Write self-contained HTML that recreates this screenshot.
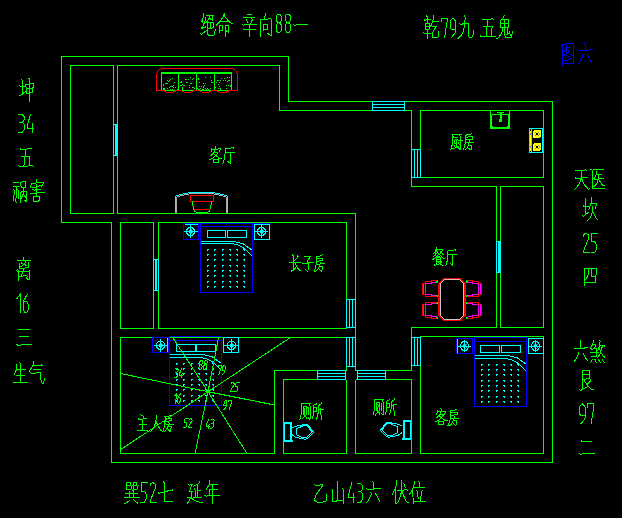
<!DOCTYPE html>
<html><head><meta charset="utf-8"><title>plan</title>
<style>html,body{margin:0;padding:0;background:#000;font-family:"Liberation Sans",sans-serif}svg{display:block}</style>
</head><body>
<svg width="622" height="518" viewBox="0 0 622 518" shape-rendering="crispEdges">
<rect x="0" y="0" width="622" height="518" fill="#000"/>
<g id="walls">
<path d="M61.5 56.5 L288.5 56.5 L288.5 101.5 L552.5 101.5 L552.5 462.5 L111.5 462.5 L111.5 222.5 L61.5 222.5 Z" stroke="#00ff00" stroke-width="1" fill="none"/>
<rect x="70.5" y="65.5" width="43" height="148" stroke="#00ff00" stroke-width="1" fill="none"/>
<path d="M357.5 370.5 L411.5 370.5 L411.5 327.5 L496.5 327.5 L496.5 186.5 L411.5 186.5 L411.5 110.5 L279.5 110.5 L279.5 65.5 L117.5 65.5 L117.5 213.5 L355.5 213.5 L355.5 370.5 L357.5 370.5" stroke="#00ff00" stroke-width="1" fill="none"/>
<rect x="120.5" y="222.5" width="33" height="106" stroke="#00ff00" stroke-width="1" fill="none"/>
<rect x="158.5" y="222.5" width="188" height="106" stroke="#00ff00" stroke-width="1" fill="none"/>
<path d="M345.5 370.5 L274.5 370.5 L274.5 453.5 L120.5 453.5 L120.5 337.5 L346.5 337.5 L346.5 370.5" stroke="#00ff00" stroke-width="1" fill="none"/>
<path d="M345.5 379.5 L283.5 379.5 L283.5 453.5 L346.5 453.5 L346.5 379.5" stroke="#00ff00" stroke-width="1" fill="none"/>
<path d="M355.5 379.5 L355.5 453.5 L411.5 453.5 L411.5 379.5 L355.5 379.5" stroke="#00ff00" stroke-width="1" fill="none"/>
<path d="M355.5 379.5 L357.5 379.5" stroke="#00ff00" stroke-width="1" fill="none"/>
<rect x="420.5" y="336.5" width="123" height="117" stroke="#00ff00" stroke-width="1" fill="none"/>
<rect x="500.5" y="186.5" width="43" height="141" stroke="#00ff00" stroke-width="1" fill="none"/>
<rect x="420.5" y="110.5" width="123" height="67" stroke="#00ff00" stroke-width="1" fill="none"/>
</g>
<g id="windows">
<rect x="372" y="101" width="33" height="10" fill="#000"/>
<rect x="372.5" y="101.5" width="32" height="9" stroke="#00ffff" stroke-width="1" fill="none"/>
<path d="M372.5 104.5 L404.5 104.5" stroke="#00ffff" stroke-width="1" fill="none"/>
<path d="M372.5 107.5 L404.5 107.5" stroke="#00ffff" stroke-width="1" fill="none"/>
<rect x="317" y="370" width="29" height="10" fill="#000"/>
<rect x="317.5" y="370.5" width="28" height="9" stroke="#00ffff" stroke-width="1" fill="none"/>
<path d="M317.5 373.5 L345.5 373.5" stroke="#00ffff" stroke-width="1" fill="none"/>
<path d="M317.5 376.5 L345.5 376.5" stroke="#00ffff" stroke-width="1" fill="none"/>
<rect x="357" y="370" width="29" height="10" fill="#000"/>
<rect x="357.5" y="370.5" width="28" height="9" stroke="#00ffff" stroke-width="1" fill="none"/>
<path d="M357.5 373.5 L385.5 373.5" stroke="#00ffff" stroke-width="1" fill="none"/>
<path d="M357.5 376.5 L385.5 376.5" stroke="#00ffff" stroke-width="1" fill="none"/>
<rect x="411" y="149" width="10" height="29" fill="#000"/>
<rect x="411.5" y="149.5" width="9" height="28" stroke="#00ffff" stroke-width="1" fill="none"/>
<path d="M414.5 149.5 L414.5 177.5" stroke="#00ffff" stroke-width="1" fill="none"/>
<path d="M417.5 149.5 L417.5 177.5" stroke="#00ffff" stroke-width="1" fill="none"/>
<rect x="346" y="299" width="10" height="29" fill="#000"/>
<rect x="346.5" y="299.5" width="9" height="28" stroke="#00ffff" stroke-width="1" fill="none"/>
<path d="M349.5 299.5 L349.5 327.5" stroke="#00ffff" stroke-width="1" fill="none"/>
<path d="M352.5 299.5 L352.5 327.5" stroke="#00ffff" stroke-width="1" fill="none"/>
<rect x="346" y="337" width="10" height="30" fill="#000"/>
<rect x="346.5" y="337.5" width="9" height="29" stroke="#00ffff" stroke-width="1" fill="none"/>
<path d="M349.5 337.5 L349.5 366.5" stroke="#00ffff" stroke-width="1" fill="none"/>
<path d="M352.5 337.5 L352.5 366.5" stroke="#00ffff" stroke-width="1" fill="none"/>
<rect x="411" y="337" width="10" height="29" fill="#000"/>
<rect x="411.5" y="337.5" width="9" height="28" stroke="#00ffff" stroke-width="1" fill="none"/>
<path d="M414.5 337.5 L414.5 365.5" stroke="#00ffff" stroke-width="1" fill="none"/>
<path d="M417.5 337.5 L417.5 365.5" stroke="#00ffff" stroke-width="1" fill="none"/>
<rect x="113" y="124" width="5" height="32" fill="#000"/>
<rect x="113.5" y="124.5" width="4" height="31" stroke="#00ffff" stroke-width="1" fill="none"/>
<rect x="115" y="124" width="3" height="32" fill="#00ffff"/>
<rect x="153" y="259" width="6" height="32" fill="#000"/>
<rect x="153.5" y="259.5" width="5" height="31" stroke="#00ffff" stroke-width="1" fill="none"/>
<rect x="155" y="259" width="2" height="32" fill="#00ffff"/>
<rect x="496" y="241" width="5" height="32" fill="#000"/>
<rect x="496.5" y="241.5" width="4" height="31" stroke="#00ffff" stroke-width="1" fill="none"/>
<rect x="498" y="241" width="3" height="32" fill="#00ffff"/>
</g>
<g id="sofa">
<rect x="161" y="72" width="71" height="2" fill="#00ff00"/>
<path d="M161.5 73 L161.5 90.5 L231.5 90.5 L231.5 73" stroke="#00ff00" stroke-width="1" fill="none"/>
<path d="M178.5 73 L178.5 90.5" stroke="#00ff00" stroke-width="1" fill="none"/>
<path d="M196.5 73 L196.5 90.5" stroke="#00ff00" stroke-width="1" fill="none"/>
<path d="M214.5 73 L214.5 90.5" stroke="#00ff00" stroke-width="1" fill="none"/>
<path d="M167 88.5h1M172 89.5h1M170 86.5h1M163 84.5h1M163 85.5h1M163 89.5h1M169 80.5h1M164 88.5h1M172 78.5h1M171 86.5h1M177 89.5h1M175 87.5h1M164 89.5h1M167 80.5h1M165 83.5h1M172 86.5h1M170 89.5h1M163 88.5h1M173 85.5h1M167 83.5h1M169 87.5h1M174 82.5h1M166 83.5h1M170 79.5h1M173 87.5h1M177 89.5h1M168 81.5h1M182 84.5h1M180 82.5h1M191 83.5h1M193 87.5h1M190 83.5h1M189 85.5h1M193 78.5h1M187 82.5h1M181 82.5h1M190 77.5h1M192 87.5h1M186 82.5h1M180 85.5h1M182 89.5h1M181 81.5h1M182 87.5h1M186 79.5h1M181 85.5h1M188 79.5h1M192 79.5h1M184 85.5h1M185 79.5h1M194 88.5h1M182 88.5h1M183 85.5h1M189 87.5h1M180 85.5h1M203 83.5h1M212 82.5h1M205 83.5h1M208 89.5h1M211 80.5h1M211 80.5h1M203 86.5h1M199 82.5h1M198 89.5h1M200 88.5h1M202 89.5h1M197 88.5h1M199 86.5h1M198 79.5h1M207 88.5h1M201 86.5h1M203 89.5h1M210 77.5h1M204 85.5h1M199 89.5h1M203 87.5h1M210 88.5h1M198 78.5h1M205 88.5h1M206 89.5h1M205 77.5h1M211 82.5h1M219 86.5h1M217 80.5h1M223 80.5h1M220 88.5h1M227 77.5h1M228 80.5h1M227 81.5h1M218 84.5h1M220 89.5h1M215 87.5h1M219 82.5h1M230 85.5h1M229 77.5h1M230 86.5h1M218 88.5h1M218 88.5h1M224 78.5h1M228 85.5h1M225 80.5h1M216 82.5h1M229 80.5h1M226 85.5h1M218 80.5h1M220 80.5h1M230 86.5h1M221 78.5h1M226 88.5h1" stroke="#00ff00" stroke-width="1" fill="none"/>
<path d="M156.5 90.5 L156.5 74 L157.5 71.5 L159.5 69.5 L162 68.5 L232 68.5 L234.5 69.5 L236.5 71.5 L237.5 74 L237.5 90.5" stroke="#ff0000" stroke-width="1" fill="none"/>
<path d="M156.5 90.5 L163 90.5 L163.5 90.5 Q166 92.5 170 92.5 Q174 92.5 176.5 90.5 L181.2 90.5 Q183.7 92.5 187.7 92.5 Q191.7 92.5 194.2 90.5 L199.0 90.5 Q201.5 92.5 205.5 92.5 Q209.5 92.5 212.0 90.5 L216.5 90.5 Q219 92.5 223 92.5 Q227 92.5 229.5 90.5 L237.5 90.5" stroke="#ff0000" stroke-width="1" fill="none"/>
</g>
<g id="tv">
<path d="M175.5 213V195.5M176 195.5H179M179 194.5H183M183 193.5H188M188 192.5H215M215 193.5H220M220 194.5H224M224 195.5H227M227.5 195.5V213" stroke="#00ffff" fill="none"/>
<path d="M176.5 213V196.5M177 196.5H180M180 195.5H184M184 194.5H189M189 193.5H214M214 194.5H219M219 195.5H223M223 196.5H226M226.5 196.5V213" stroke="#a8a8a8" fill="none"/>
<rect x="190.5" y="195.5" width="23" height="6" stroke="#ff0000" stroke-width="1" fill="none"/>
<path d="M192.5 201.5 L193.5 209.5 L195 211.5 L197.5 212.5 L206.5 212.5 L209 211.5 L210.5 209.5 L211.5 201.5" stroke="#00ff00" stroke-width="1" fill="none"/>
<path d="M194 209.5 L210 209.5" stroke="#ff0000" stroke-width="1" fill="none"/>
</g>
<g>
<rect x="207.5" y="230.5" width="18" height="7" stroke="#00ffff" stroke-width="1" fill="none"/>
<rect x="227" y="230.5" width="19" height="7" stroke="#00ffff" stroke-width="1" fill="none"/>
<path d="M200.5 241.5 L233.5 241.5 L238.5 242.5 L243.5 244 L252.5 250.5" stroke="#00ffff" stroke-width="1" fill="none"/>
<path d="M200.5 243.5 L231.5 243.5 L236.5 244.5 L241.5 246.5 L245.5 249.5 L252.5 256.5" stroke="#00ffff" stroke-width="1" fill="none"/>
<path d="M207 249.5h2M207.5 250v1M207 254.5h2M207.5 255v1M207 259.5h2M207.5 260v1M207 265.5h2M207.5 266v1M207 270.5h2M207.5 271v1M207 275.5h2M207.5 276v1M207 281.5h2M207.5 282v1M207 286.5h2M207.5 287v1M214 249.5h2M214.5 250v1M214 254.5h2M214.5 255v1M214 259.5h2M214.5 260v1M214 265.5h2M214.5 266v1M214 270.5h2M214.5 271v1M214 275.5h2M214.5 276v1M214 281.5h2M214.5 282v1M214 286.5h2M214.5 287v1M222 249.5h2M222.5 250v1M222 254.5h2M222.5 255v1M222 259.5h2M222.5 260v1M222 265.5h2M222.5 266v1M222 270.5h2M222.5 271v1M222 275.5h2M222.5 276v1M222 281.5h2M222.5 282v1M222 286.5h2M222.5 287v1M229 249.5h2M230.5 250v1M229 254.5h2M230.5 255v1M229 259.5h2M230.5 260v1M229 265.5h2M230.5 266v1M229 270.5h2M230.5 271v1M229 275.5h2M230.5 276v1M229 281.5h2M230.5 282v1M229 286.5h2M230.5 287v1M236 249.5h2M237.5 250v1M236 254.5h2M237.5 255v1M236 259.5h2M237.5 260v1M236 265.5h2M237.5 266v1M236 270.5h2M237.5 271v1M236 275.5h2M237.5 276v1M236 281.5h2M237.5 282v1M236 286.5h2M237.5 287v1M243 249.5h2M244.5 250v1M243 254.5h2M244.5 255v1M243 259.5h2M244.5 260v1M243 265.5h2M244.5 266v1M243 270.5h2M244.5 271v1M243 275.5h2M244.5 276v1M243 281.5h2M244.5 282v1M243 286.5h2M244.5 287v1" stroke="#00ffff" stroke-width="1" fill="none"/>
<rect x="200.5" y="223.5" width="52" height="69" stroke="#0000ff" stroke-width="1" fill="none"/>
<path d="M200.5 226.5 L252.5 226.5" stroke="#0000ff" stroke-width="1" fill="none"/>
</g>
<path d="M184.5 224.5 L198 224.5" stroke="#00ffff" stroke-width="1" fill="none"/>
<rect x="183.5" y="223.5" width="15" height="16" stroke="#0000ff" stroke-width="1" fill="none"/>
<path d="M188.8 227.8 L192.2 227.8 L194.5 229.9 L194.5 233.1 L192.2 235.2 L188.8 235.2 L186.5 233.1 L186.5 229.9 Z" stroke="#00ffff" stroke-width="1" fill="none"/>
<path d="M184 231.5 L197.8 231.5" stroke="#00ffff" stroke-width="1" fill="none"/>
<path d="M190.5 224.5 L190.5 237.8" stroke="#00ffff" stroke-width="1" fill="none"/>
<path d="M188 231.5 L190.5 229.5 L193 231.5 L190.5 233.5 Z" fill="#00ffff" stroke="#00ffff" stroke-width="0.6"/>
<path d="M254 223.5 L270 223.5" stroke="#0000ff" stroke-width="1" fill="none"/>
<rect x="254.5" y="224.5" width="15" height="15" stroke="#00ffff" stroke-width="1" fill="none"/>
<path d="M259.8 227.8 L263.2 227.8 L265.5 229.9 L265.5 233.1 L263.2 235.2 L259.8 235.2 L257.5 233.1 L257.5 229.9 Z" stroke="#00ffff" stroke-width="1" fill="none"/>
<path d="M254.5 231.5 L267.8 231.5" stroke="#00ffff" stroke-width="1" fill="none"/>
<path d="M261.5 224.5 L261.5 237.8" stroke="#00ffff" stroke-width="1" fill="none"/>
<path d="M259 231.5 L261.5 229.5 L264 231.5 L261.5 233.5 Z" fill="#00ffff" stroke="#00ffff" stroke-width="0.6"/>
<g>
<rect x="176.5" y="344.5" width="18.5" height="7" stroke="#00ffff" stroke-width="1" fill="none"/>
<rect x="196.5" y="344.5" width="18.5" height="7" stroke="#00ffff" stroke-width="1" fill="none"/>
<path d="M169.5 354.5 L202.5 354.5 L207.5 355.5 L212.5 357 L221.5 363.5" stroke="#00ffff" stroke-width="1" fill="none"/>
<path d="M169.5 357.5 L200.5 357.5 L205.5 358.5 L210.5 360.5 L214.5 363.5 L221.5 370.5" stroke="#00ffff" stroke-width="1" fill="none"/>
<path d="M176 363.5h2M176.5 364v1M176 368.5h2M176.5 369v1M176 373.5h2M176.5 374v1M176 379.5h2M176.5 380v1M176 384.5h2M176.5 385v1M176 389.5h2M176.5 390v1M176 395.5h2M176.5 396v1M176 400.5h2M176.5 401v1M183 363.5h2M183.5 364v1M183 368.5h2M183.5 369v1M183 373.5h2M183.5 374v1M183 379.5h2M183.5 380v1M183 384.5h2M183.5 385v1M183 389.5h2M183.5 390v1M183 395.5h2M183.5 396v1M183 400.5h2M183.5 401v1M191 363.5h2M191.5 364v1M191 368.5h2M191.5 369v1M191 373.5h2M191.5 374v1M191 379.5h2M191.5 380v1M191 384.5h2M191.5 385v1M191 389.5h2M191.5 390v1M191 395.5h2M191.5 396v1M191 400.5h2M191.5 401v1M198 363.5h2M199.5 364v1M198 368.5h2M199.5 369v1M198 373.5h2M199.5 374v1M198 379.5h2M199.5 380v1M198 384.5h2M199.5 385v1M198 389.5h2M199.5 390v1M198 395.5h2M199.5 396v1M198 400.5h2M199.5 401v1M205 363.5h2M206.5 364v1M205 368.5h2M206.5 369v1M205 373.5h2M206.5 374v1M205 379.5h2M206.5 380v1M205 384.5h2M206.5 385v1M205 389.5h2M206.5 390v1M205 395.5h2M206.5 396v1M205 400.5h2M206.5 401v1M212 363.5h2M213.5 364v1M212 368.5h2M213.5 369v1M212 373.5h2M213.5 374v1M212 379.5h2M213.5 380v1M212 384.5h2M213.5 385v1M212 389.5h2M213.5 390v1M212 395.5h2M213.5 396v1M212 400.5h2M213.5 401v1" stroke="#00ffff" stroke-width="1" fill="none"/>
<rect x="169.5" y="336.5" width="52" height="69" stroke="#0000ff" stroke-width="1" fill="none"/>
<path d="M169.5 340.5 L221.5 340.5" stroke="#0000ff" stroke-width="1" fill="none"/>
</g>
<path d="M167.5 338 L167.5 352.5" stroke="#00ffff" stroke-width="1" fill="none"/>
<rect x="152.5" y="337.5" width="16" height="15" stroke="#0000ff" stroke-width="1" fill="none"/>
<path d="M158.8 341.5 L162.2 341.5 L164.5 343.8 L164.5 347.2 L162.2 349.5 L158.8 349.5 L156.5 347.2 L156.5 343.8 Z" stroke="#00ffff" stroke-width="1" fill="none"/>
<path d="M154 345.5 L167.5 345.5" stroke="#00ffff" stroke-width="1" fill="none"/>
<path d="M160.5 339 L160.5 352" stroke="#00ffff" stroke-width="1" fill="none"/>
<path d="M158 345.5 L160.5 343.5 L163 345.5 L160.5 347.5 Z" fill="#00ffff" stroke="#00ffff" stroke-width="0.6"/>
<rect x="223.5" y="337.5" width="15" height="15" stroke="#00ffff" stroke-width="1" fill="none"/>
<path d="M229.8 341.5 L233.2 341.5 L235.5 343.8 L235.5 347.2 L233.2 349.5 L229.8 349.5 L227.5 347.2 L227.5 343.8 Z" stroke="#00ffff" stroke-width="1" fill="none"/>
<path d="M223.5 345.5 L238.5 345.5" stroke="#00ffff" stroke-width="1" fill="none"/>
<path d="M231.5 339 L231.5 352.5" stroke="#00ffff" stroke-width="1" fill="none"/>
<path d="M229 345.5 L231.5 343.5 L234 345.5 L231.5 347.5 Z" fill="#00ffff" stroke="#00ffff" stroke-width="0.6"/>
<g>
<rect x="480.5" y="345.5" width="19" height="7" stroke="#00ffff" stroke-width="1" fill="none"/>
<rect x="501" y="345.5" width="19" height="7" stroke="#00ffff" stroke-width="1" fill="none"/>
<path d="M474.5 355.5 L507.5 355.5 L512.5 356.5 L517.5 358 L526.5 364.5" stroke="#00ffff" stroke-width="1" fill="none"/>
<path d="M474.5 358.5 L505.5 358.5 L510.5 359.5 L515.5 361.5 L519.5 364.5 L526.5 371.5" stroke="#00ffff" stroke-width="1" fill="none"/>
<path d="M481 364.5h2M481.5 365v1M481 369.5h2M481.5 370v1M481 374.5h2M481.5 375v1M481 380.5h2M481.5 381v1M481 385.5h2M481.5 386v1M481 390.5h2M481.5 391v1M481 396.5h2M481.5 397v1M481 401.5h2M481.5 402v1M488 364.5h2M488.5 365v1M488 369.5h2M488.5 370v1M488 374.5h2M488.5 375v1M488 380.5h2M488.5 381v1M488 385.5h2M488.5 386v1M488 390.5h2M488.5 391v1M488 396.5h2M488.5 397v1M488 401.5h2M488.5 402v1M496 364.5h2M496.5 365v1M496 369.5h2M496.5 370v1M496 374.5h2M496.5 375v1M496 380.5h2M496.5 381v1M496 385.5h2M496.5 386v1M496 390.5h2M496.5 391v1M496 396.5h2M496.5 397v1M496 401.5h2M496.5 402v1M503 364.5h2M504.5 365v1M503 369.5h2M504.5 370v1M503 374.5h2M504.5 375v1M503 380.5h2M504.5 381v1M503 385.5h2M504.5 386v1M503 390.5h2M504.5 391v1M503 396.5h2M504.5 397v1M503 401.5h2M504.5 402v1M510 364.5h2M511.5 365v1M510 369.5h2M511.5 370v1M510 374.5h2M511.5 375v1M510 380.5h2M511.5 381v1M510 385.5h2M511.5 386v1M510 390.5h2M511.5 391v1M510 396.5h2M511.5 397v1M510 401.5h2M511.5 402v1M517 364.5h2M518.5 365v1M517 369.5h2M518.5 370v1M517 374.5h2M518.5 375v1M517 380.5h2M518.5 381v1M517 385.5h2M518.5 386v1M517 390.5h2M518.5 391v1M517 396.5h2M518.5 397v1M517 401.5h2M518.5 402v1" stroke="#00ffff" stroke-width="1" fill="none"/>
<rect x="474.5" y="337.5" width="52" height="69" stroke="#0000ff" stroke-width="1" fill="none"/>
<path d="M474.5 341.5 L526.5 341.5" stroke="#0000ff" stroke-width="1" fill="none"/>
</g>
<path d="M457.5 339 L457.5 353.5" stroke="#00ffff" stroke-width="1" fill="none"/>
<rect x="456.5" y="338.5" width="16" height="15" stroke="#0000ff" stroke-width="1" fill="none"/>
<path d="M462.9 341.4 L466.1 341.4 L468.2 344.1 L468.2 347.9 L466.1 350.6 L462.9 350.6 L460.8 347.9 L460.8 344.1 Z" stroke="#00ffff" stroke-width="1" fill="none"/>
<path d="M457.5 346 L470.8 346" stroke="#00ffff" stroke-width="1" fill="none"/>
<path d="M464.5 340 L464.5 352" stroke="#00ffff" stroke-width="1" fill="none"/>
<path d="M462 346 L464.5 344 L467 346 L464.5 348 Z" fill="#00ffff" stroke="#00ffff" stroke-width="0.6"/>
<rect x="528.5" y="338.5" width="15" height="15" stroke="#00ffff" stroke-width="1" fill="none"/>
<path d="M533.9 341.4 L537.1 341.4 L539.2 344.1 L539.2 347.9 L537.1 350.6 L533.9 350.6 L531.8 347.9 L531.8 344.1 Z" stroke="#00ffff" stroke-width="1" fill="none"/>
<path d="M528.5 346 L541.8 346" stroke="#00ffff" stroke-width="1" fill="none"/>
<path d="M535.5 340 L535.5 352" stroke="#00ffff" stroke-width="1" fill="none"/>
<path d="M533 346 L535.5 344 L538 346 L535.5 348 Z" fill="#00ffff" stroke="#00ffff" stroke-width="0.6"/>
<g id="dining">
<path d="M423.5 284 L423.5 294" stroke="#ff00ff" stroke-width="1" fill="none"/>
<path d="M436.5 282.5 L431.5 282.5 L431.5 283.5 L425.5 283.5 L425.5 294.5 L431.5 294.5 L431.5 295.5 L436.5 295.5" stroke="#ff00ff" stroke-width="1" fill="none"/>
<path d="M438 280.5 L431.5 280.5 L431.5 281.5 L425.5 281.5 L425.5 283.5 L422.5 283.5 L422.5 294.5 L425.5 294.5 L425.5 296.5 L438 296.5" stroke="#ff0000" stroke-width="1" fill="none"/>
<path d="M435.5 282.5 L438 279.5 L438 282.5 Z" fill="#00ff00" stroke="none"/>
<path d="M435.5 295 L438 295 L438 297.5 Z" fill="#00ff00" stroke="none"/>
<path d="M423.5 315 L423.5 305" stroke="#ff00ff" stroke-width="1" fill="none"/>
<path d="M436.5 316.5 L431.5 316.5 L431.5 315.5 L425.5 315.5 L425.5 304.5 L431.5 304.5 L431.5 303.5 L436.5 303.5" stroke="#ff00ff" stroke-width="1" fill="none"/>
<path d="M438 318.5 L431.5 318.5 L431.5 317.5 L425.5 317.5 L425.5 315.5 L422.5 315.5 L422.5 304.5 L425.5 304.5 L425.5 302.5 L438 302.5" stroke="#ff0000" stroke-width="1" fill="none"/>
<path d="M435.5 316.5 L438 319.5 L438 316.5 Z" fill="#00ff00" stroke="none"/>
<path d="M435.5 304 L438 304 L438 301.5 Z" fill="#00ff00" stroke="none"/>
<path d="M480.5 284 L480.5 294" stroke="#ff00ff" stroke-width="1" fill="none"/>
<path d="M467.5 282.5 L472.5 282.5 L472.5 283.5 L478.5 283.5 L478.5 294.5 L472.5 294.5 L472.5 295.5 L467.5 295.5" stroke="#ff00ff" stroke-width="1" fill="none"/>
<path d="M466 280.5 L472.5 280.5 L472.5 281.5 L478.5 281.5 L478.5 283.5 L481.5 283.5 L481.5 294.5 L478.5 294.5 L478.5 296.5 L466 296.5" stroke="#ff0000" stroke-width="1" fill="none"/>
<path d="M468.5 282.5 L466 279.5 L466 282.5 Z" fill="#00ff00" stroke="none"/>
<path d="M468.5 295 L466 295 L466 297.5 Z" fill="#00ff00" stroke="none"/>
<path d="M480.5 315 L480.5 305" stroke="#ff00ff" stroke-width="1" fill="none"/>
<path d="M467.5 316.5 L472.5 316.5 L472.5 315.5 L478.5 315.5 L478.5 304.5 L472.5 304.5 L472.5 303.5 L467.5 303.5" stroke="#ff00ff" stroke-width="1" fill="none"/>
<path d="M466 318.5 L472.5 318.5 L472.5 317.5 L478.5 317.5 L478.5 315.5 L481.5 315.5 L481.5 304.5 L478.5 304.5 L478.5 302.5 L466 302.5" stroke="#ff0000" stroke-width="1" fill="none"/>
<path d="M468.5 316.5 L466 319.5 L466 316.5 Z" fill="#00ff00" stroke="none"/>
<path d="M468.5 304 L466 304 L466 301.5 Z" fill="#00ff00" stroke="none"/>
<path d="M443.5 278.5 L460.5 278.5 L465.5 283.5 L465.5 315.5 L460.5 320.5 L443.5 320.5 L438.5 315.5 L438.5 283.5 Z" stroke="#ff0000" stroke-width="1" fill="none"/>
<path d="M444 279 L460 279 L464.5 283.5 L464.5 315.5 L460 320 L444 320 L439.5 315.5 L439.5 283.5 Z" stroke="#ff0000" stroke-width="1" fill="none"/>
<path d="M444.5 279.5 L459.5 279.5 L463.5 283.5 L463.5 315.5 L459.5 319.5 L444.5 319.5 L440.5 315.5 L440.5 283.5 Z" stroke="#c8c8c8" stroke-width="1" fill="none"/>
</g>
<g id="kitchen">
<rect x="490.5" y="110.5" width="19" height="18" stroke="#00ff00" stroke-width="1" fill="none"/>
<rect x="490" y="127" width="20" height="2" fill="#00ff00"/>
<rect x="491.5" y="114.5" width="17" height="12.5" rx="1.5" stroke="#00ff00" fill="none"/>
<path d="M497 112.5 L504 112.5" stroke="#00ff00" stroke-width="1" fill="none"/>
<rect x="499.5" y="112" width="2" height="9" fill="#00ff00"/>
<circle cx="500.5" cy="120.5" r="1" stroke="#00ff00" fill="none"/>
<rect x="529.5" y="128.5" width="13" height="24" stroke="#00ffff" stroke-width="1" fill="none"/>
<path d="M531.5 128.5 L531.5 152.5" stroke="#00ffff" stroke-width="1" fill="none"/>
<path d="M530.5 131 L530.5 151" stroke="#ffff00" stroke-width="1" fill="none"/>
<rect x="533" y="130" width="8" height="8" rx="2" fill="#ffff00"/>
<rect x="534" y="129.5" width="6" height="1" fill="#ffff00"/>
<rect x="536" y="133" width="2" height="2" fill="#000"/>
<rect x="535" y="132" width="1" height="1" fill="#777"/>
<rect x="538" y="132" width="1" height="1" fill="#777"/>
<rect x="535" y="135" width="1" height="1" fill="#777"/>
<rect x="538" y="135" width="1" height="1" fill="#777"/>
<rect x="539" y="133" width="1" height="2" fill="#999"/>
<rect x="530" y="133" width="2" height="2" fill="#9090a0"/>
<rect x="533" y="143" width="8" height="8" rx="2" fill="#ffff00"/>
<rect x="534" y="142.5" width="6" height="1" fill="#ffff00"/>
<rect x="536" y="146" width="2" height="2" fill="#000"/>
<rect x="535" y="145" width="1" height="1" fill="#777"/>
<rect x="538" y="145" width="1" height="1" fill="#777"/>
<rect x="535" y="148" width="1" height="1" fill="#777"/>
<rect x="538" y="148" width="1" height="1" fill="#777"/>
<rect x="539" y="146" width="1" height="2" fill="#999"/>
<rect x="530" y="146" width="2" height="2" fill="#9090a0"/>
</g>
<g id="toilets">
<rect x="284.2" y="422.1" width="7.8" height="19.6" fill="#00ffff"/>
<rect x="292" y="439.7" width="1" height="2" fill="#00ffff"/>
<rect x="285.2" y="424" width="4.4" height="15.8" fill="#000"/>
<path d="M291.9 427.9 L295.1 426.3 L299.3 425.6 L301.2 425.6 L304.8 424 L307 424.4 L313.8 431.8 L310.2 435.9 L307.7 438.2 L305.4 439.5 L303.8 438.8 L299.3 438.2 L295.1 436.9 L291.9 434.6" stroke="#00ffff" stroke-width="1" fill="none"/>
<path d="M298 427.9 L296.3 428.8 L296.3 434.4 L298 435.6 L301 436.9 L305.2 438 L307 437 L309.5 434.8 L312.3 431.8 L306.5 425.5 L305 425.3 L301.2 426.8 L298 427.9" stroke="#00ffff" stroke-width="1" fill="none"/>
<rect x="403" y="420.1" width="7.8" height="19.6" fill="#00ffff"/>
<rect x="402" y="437.7" width="1" height="2" fill="#00ffff"/>
<rect x="405.4" y="422" width="4.4" height="15.8" fill="#000"/>
<path d="M402.1 425.9 L398.9 424.3 L394.7 423.6 L392.8 423.6 L389.2 422 L387 422.4 L380.2 429.8 L383.8 433.9 L386.3 436.2 L388.6 437.5 L390.2 436.8 L394.7 436.2 L398.9 434.9 L402.1 432.6" stroke="#00ffff" stroke-width="1" fill="none"/>
<path d="M396 425.9 L397.7 426.8 L397.7 432.4 L396 433.6 L393 434.9 L388.8 436 L387 435 L384.5 432.8 L381.7 429.8 L387.5 423.5 L389 423.3 L392.8 424.8 L396 425.9" stroke="#00ffff" stroke-width="1" fill="none"/>
</g>
<g id="rays">
<path d="M208 391.7 L172.7 337.5" stroke="#00ff00" stroke-width="1" fill="none"/>
<path d="M208 391.7 L218.6 337.5" stroke="#00ff00" stroke-width="1" fill="none"/>
<path d="M208 391.7 L290.5 337.5" stroke="#00ff00" stroke-width="1" fill="none"/>
<path d="M208 391.7 L274.5 405" stroke="#00ff00" stroke-width="1" fill="none"/>
<path d="M208 391.7 L247 453.5" stroke="#00ff00" stroke-width="1" fill="none"/>
<path d="M208 391.7 L195 453.5" stroke="#00ff00" stroke-width="1" fill="none"/>
<path d="M208 391.7 L120.5 449.7" stroke="#00ff00" stroke-width="1" fill="none"/>
<path d="M208 391.7 L120.5 373.5" stroke="#00ff00" stroke-width="1" fill="none"/>
</g>
<g id="text">
<path d="M210.3 28.1 L207.4 28.4M210.3 28.1 L213.2 27.9 L213.5 23.1 L213.3 22.2 L210.4 22.4M210.3 28.1 L210.4 22.4M202.5 28.2 L205.8 26.9M202.5 28.2 L203.8 23.6M202.5 28.2 L201.8 28.5 L201.1 27.8M205.5 17.6 L205.7 19.3 L204.3 23.2 L203.8 23.6M210 18.6 L211.4 19.9 L212.2 20.1 L212.7 18.4 L213 15.6 L211.4 15.4 L209.5 15.8M203.5 13.8 L203.8 14.9 L203.7 15.9 L201.7 21.3 L203.8 23.6M210.4 22.4 L207.4 22.5M207.4 22.5 L207.4 28.4M207.4 22.5 L207.1 21.6M215.1 29.4 L214.9 33.9 L214.5 34.8 L213.1 35.3 L208.7 35.3 L207.5 34.3 L207.4 28.4M205.7 22.6 L207.1 21.6M206.4 15.2 L207.3 15.9 L209.5 15.8M206.3 30.7 L201.7 34.2 L200.5 33.8M207.1 21.6 L209 18.2 L209.5 15.8M225.4 37 L225.1 35.2 L225.1 25.3 L228.9 25.1 L228.9 29.2 L228.5 31.9 L228.2 32.3 L227 31.6 L226 30.4M227 21.7 L226.1 21.3 L221.8 21.7 L220.7 20.7M231.9 23.2 L231.2 23.4 L228.3 20.8 L223.9 15.3M219.5 31 L222.5 30.9 L222.7 26.4 L222.5 25.6 L219.2 25.9 L219.5 31M219.5 31 L219.8 32.5M223.9 13 L224.1 13.8 L223.9 15.3M220.7 20.7 L223.9 15.3M220.7 20.7 L216.3 25.1M255.4 29.6 L254.8 29.3 L249.4 29.6M250.4 24.6 L256 24.1 L256.8 24.5M250.4 24.6 L252.2 20 L252 18.7M250.4 24.6 L249.4 24.7M255 17.4 L245.6 18 L243.7 17.5M247.3 14.1 L251.3 14.6M249.4 29.6 L249.4 24.7M249.4 29.7 L244.3 29.9 L243.6 29.3M249.4 29.7 L249.4 35.7 L249.7 36.6M247.7 22.9 L246.8 20.4 L246.2 19.7M249.4 24.7 L242.9 25.1 L242.2 24.6M263.8 19.3 L270.3 18.8 L271.4 19.2 L271.4 35.3 L271.1 35.7 L270.4 35.5 L267.8 33.3M263.8 19.3 L265.5 14.4 L265.3 13.1M263.8 19.3 L260.3 19.7 L260.3 35.6 L260.5 36.2M263.6 24.8 L263.9 30 L267.5 29.8 L267.7 24.1 L263.6 24.4 L263.6 24.8M278.8 14 L276.8 15.2 L276.1 17 L276.1 19.5 L277.3 22 L278.8 22.7 L280.5 22 L281.6 19.5 L281.6 17 L280.8 15.2 L278.8 14M278.8 22.7 L277 23.7 L276.1 25.5 L276.1 29.5 L277.3 32 L278.8 33 L280.3 32 L281.6 29.5 L281.6 25.5 L280.6 23.7 L278.8 22.7M287.9 14 L285.9 15.2 L285.2 17 L285.2 19.5 L286.4 22 L287.9 22.7 L289.6 22 L290.7 19.5 L290.7 17 L289.9 15.2 L287.9 14M287.9 22.7 L286.1 23.7 L285.2 25.5 L285.2 29.5 L286.4 32 L287.9 33 L289.4 32 L290.7 29.5 L290.7 25.5 L289.7 23.7 L287.9 22.7M293.2 24.5 L294.2 25.2 L306.9 24.1 L307.6 24.5" stroke="#00ff00" stroke-width="1" fill="none" stroke-linecap="square"/>
<path d="M438.8 31.7 L438.6 35.3 L438 37 L436.2 37.5 L432.5 37 L432.1 35.8 L432.5 33.3 L436.1 26.3 L432.3 26.4 L431.7 26M432.6 21.6 L437.1 21.2 L438.2 21.6M432.6 21.6 L430.3 26.2M432.6 21.6 L433.6 17.2 L433.2 16M427.3 19.9 L424.5 20.1 L424 19.7M427.3 19.9 L427.3 23.1M427.3 19.8 L430.5 19.8M427.3 19.8 L427.3 17.2 L426.7 15.8M429.3 26 L429.3 23.1 L427.3 23.1M429.3 26 L429.2 28.9 L427.3 29.3M429.3 26 L425.1 26.4M427.3 33 L424 33.2 L423.4 32.7M427.3 33 L430.9 33M427.3 33 L427.2 37.9 L427.5 38.8M427.3 33 L427.3 29.3M427.3 29.3 L425.3 29.3 L425.1 26.4M427.3 23.1 L425 23.4 L425.1 26.4M441.1 21.3 L441.1 18.2 L447 18.2 L447 22.3 L445.2 33 L444.7 37.6M455.7 29.7 L451.1 29.4 L450.5 28.4 L450.5 20.4 L452.7 18.2 L454.7 19.8 L455.7 22.3 L455.7 31.5 L454.3 34 L451.4 37.6M464.7 23.8 L463.9 29 L462.5 33.1 L460.4 36.3 L458.2 38.5M464.7 23.8 L460.5 24.2 L459.6 23.5M473.4 30.8 L473.1 34.8 L472.5 36.8 L471.4 37.3 L468.9 37 L468.4 35.1 L469 23.4 L468.8 23.1 L464.9 23.4M464.9 23.4 L465.1 17.2 L464.5 15.9M495.7 36.5 L494.9 36.1 L491.7 36.1M482.5 19.2 L483.1 19.7 L487.9 19.4M487.2 26.5 L492.1 26.5 L491.7 36.1M487.2 26.5 L487.9 19.4M486 36.5 L491.7 36.1M486 36.5 L487 26.9M486 36.5 L481.7 36.6 L480.7 36.1M487.9 19.4 L492.3 18.8 L493.7 19.1M483.1 26.3 L483.8 26.9 L487 26.9M504.4 23.6 L504.4 19.9M504.4 23.6 L508.6 23.4M506.9 34.4 L509.8 33.4M506.9 34.4 L505.9 34.1M506.9 34.4 L508 29.6 L507.8 28.7M504.4 19.9 L508.7 19.4 L508.6 23.4M504.4 19.9 L502.4 19.8M496.9 38.7 L499 37 L500.9 34.4 L502.3 30.9 L502.8 27.9M502.4 19.8 L500 20.2 L500.1 24.1M502.4 19.8 L502.6 18.9 L504.2 15.9M512.2 31.7 L511.8 36 L511.3 37.2 L509.7 37.6 L505.3 37.3 L504.9 35.5 L505 27.6M504.3 23.7 L500.1 24.1M504.3 23.7 L504.3 27.5M500.1 24.1 L500.3 27.9 L502.8 27.9M510.2 35.1 L510.3 34.4 L509.8 33.4M508.6 23.4 L508.5 27.2 L505 27.6M509.3 31.7 L509.8 33.4M504.3 27.5 L502.8 27.9M504.3 27.5 L505 27.6" stroke="#00ff00" stroke-width="1" fill="none" stroke-linecap="square"/>
<path d="M565.9 49.3 L565.9 48.6 L566.6 47.8M565.9 49.3 L563.8 51.9M565.9 49.3 L567.7 51.8M567.7 51.8 L565.6 54.3 L563 56.2M562.1 63.5 L573.5 63 L573.4 43.5 L562 44.2 L562.1 63.5M562.1 63.5 L562.2 65.2M571.2 58.3 L565.6 61 L564.6 60.5M569.4 57.3 L566.7 55.9 L565.9 56M572.3 55.1 L571 54.7 L568 51.8M566.6 47.8 L569.6 47.8 L569.4 49 L568 51.8M566.6 47.8 L566.9 46.4 L566.8 45.5M578.2 64 L580.2 61 L582.5 56.5 L582.8 55.5 L582.5 54.2M592.4 50.1 L591.3 49.8 L585.2 50.3M585.2 50.3 L578.9 50.8 L578 50M585.2 50.3 L585.2 44.4 L584.4 42.9M587.3 55.1 L591.6 62.5" stroke="#0000ff" stroke-width="1" fill="none" stroke-linecap="square"/>
<path d="M22.2 94.1 L25.2 91.8M22.2 94.1 L22 94.6 L20.2 95.7 L19.3 95.1M22.2 94.1 L22.2 86.5M33 88 L32.8 92.7 L29.4 93M33 88 L33.1 83.6 L29.4 83.9M33 88 L29.4 88.2M19.7 86 L20.4 86.6 L22.2 86.5M28.9 78.2 L29.4 79.2 L29.4 83.9M29.4 88.2 L29.4 84M29.4 88.3 L29.4 93M29.4 88.3 L26.1 88.5M29.6 101.4 L29.4 93.1M26.1 88.5 L25.9 84.2 L29.4 84M26.1 88.5 L26.3 93.2 L29.4 93.1M22.2 86.4 L22.3 80.6 L21.7 79.4M22.2 86.4 L24.8 86.5" stroke="#00ff00" stroke-width="1" fill="none" stroke-linecap="square"/>
<path d="M18.9 114.2 L21.8 114.2 L24.3 116.7 L24.3 119.6 L22.4 122.2 L19.9 122.2M22.4 122.2 L24.3 124.7 L24.3 129.5 L22 132.6 L18.9 132.6M30.5 114.2 L27.5 124.9 L27.5 128.2 L33.3 128.2M32.3 123.9 L32.3 132.6" stroke="#00ff00" stroke-width="1" fill="none" stroke-linecap="square"/>
<path d="M33.6 166.3 L32.8 165.9 L29.6 165.9M20.4 149 L21 149.5 L25.8 149.2M25.1 156.3 L30 156.3 L29.6 165.9M25.1 156.3 L25.8 149.2M23.9 166.3 L29.6 165.9M23.9 166.3 L24.9 156.7M23.9 166.3 L19.6 166.4 L18.6 165.9M25.8 149.2 L30.2 148.6 L31.6 148.9M21 156.1 L21.7 156.7 L24.9 156.7" stroke="#00ff00" stroke-width="1" fill="none" stroke-linecap="square"/>
<path d="M23.3 191.7 L27 191.6 L26.9 201.6 L26.2 201.7 L24.3 200.1M23.3 191.7 L23.3 187.7M16.1 186.7 L13.6 186.8 L13 186.2M16.1 186.7 L18.3 186.3 L19.2 186.7M16.1 186.7 L16 201.7 L16.3 202.5M21.1 198.4 L23.1 194.3M23.3 187.7 L25.6 187.3 L25.8 181.7 L20.9 182.1 L21.1 187.7 L23.3 187.7M18.4 182.9 L14.7 182.9 L13.8 182.3M23.1 194.3 L25.6 197.1M23.1 194.3 L23.2 191.9M13.2 200.2 L14.2 193.8 L14.2 190.5 L13.8 189.5M20.2 202.1 L20.1 192.1 L23.2 191.9M18.2 198.4 L18.1 190.3 L17.6 189.3M40.5 189.7 L36.7 189.8M36.7 182.9 L31.5 183.4 L30.5 186.9 L30.6 187.5M36.7 182.9 L43 182.4 L43 183.7 L41.7 186.2M36.7 182.9 L36.7 180.4 L36.1 179.2M36.1 184.3 L36.6 185.1 L36.7 186.6M29.8 193 L30.4 193.5 L36.6 193M36.7 186.6 L40.4 185.6M36.6 193 L36.7 189.8M36.6 193 L43.1 192.5 L43.9 192.8M36.7 186.8 L36.7 189.8M36.7 186.8 L32.4 187.7M36.6 196.4 L40 196.3 L39.8 200.9 L33.8 201.4 L33.5 196.6 L36.6 196.4M36.6 196.4 L36.6 193M36.7 189.8 L33.9 190.1 L33.1 189.5" stroke="#00ff00" stroke-width="1" fill="none" stroke-linecap="square"/>
<path d="M23.4 268.1 L19.4 268.2 L19.4 264 L19 263M23.4 268.1 L28.2 267.8 L28.4 262.9 L27.9 262.1M23.4 268.1 L23 271.3M16.7 271 L18.3 271.6M23 271.3 L29.4 271 L29.4 279.8 L28.5 279.8 L26.4 278M23.6 264.3 L24.4 264.2M23.6 264.3 L23 265.3 L20.6 266.8M23.6 264.3 L21.2 262.9M18.3 271.6 L18.3 270.5 L17.7 269.4M18.3 271.6 L22.6 271.5M18.3 271.6 L18.5 280.6M23.7 260.3 L23.7 258.1 L23.2 257.1M23.7 260.3 L18.7 261 L17.2 260.4M23.7 260.3 L30.2 260.1M27.1 276.4 L26.1 274.9 L21.6 276.4M21.6 276.4 L22.6 271.5M21.6 276.4 L20.5 276.7 L19.7 276.1M26.5 265.7 L24.4 264.2M25.5 261.8 L25.6 262.4 L24.4 264.2" stroke="#00ff00" stroke-width="1" fill="none" stroke-linecap="square"/>
<path d="M17.1 298.4 L20.3 294.2 L20.3 312.6M27.3 294.2 L23.4 301.4 L23.4 309.7 L24.9 312.6 L26.9 312.6 L28.5 308.9 L28.5 304.6 L26.9 301.9 L23.4 301.9" stroke="#00ff00" stroke-width="1" fill="none" stroke-linecap="square"/>
<path d="M29.3 329.5 L27.6 329.1 L19.2 329.8 L18.4 329.2M19.6 336.2 L20.6 337 L27.6 336.4 L28.5 336.8M31.3 344.8 L30.4 344.4 L17.6 345.2 L16.7 344.5" stroke="#00ff00" stroke-width="1" fill="none" stroke-linecap="square"/>
<path d="M20.2 375.5 L16.6 375.7 L15.8 375M20.2 375.5 L20.2 382.5M20.2 375.4 L24.7 375.6M20.2 375.4 L20.2 369.5M19.6 362.1 L20.2 363.5 L20.2 369.4M13 382.2 L13.7 382.8 L20.2 382.5M20.2 369.5 L16.4 369.7M20.2 382.5 L26.9 382.1 L27.8 382.6M25.4 369.4 L24.7 369.1 L20.2 369.4M16.6 364.8 L17 366 L16.4 369.7M16.4 369.7 L14.1 374.7M32.9 365.7 L29.4 371.1M32.9 365.7 L41.5 365 L42.7 365.3M32.9 365.7 L33.6 362.9 L33.2 361.8M30.7 372.7 L31.8 373.4 L40.5 372.5 L41 380.1 L41.7 382.5 L42.7 383.9 L43.7 383.7 L44.3 378.2M40.7 369 L33.8 369.5 L32.9 368.9" stroke="#00ff00" stroke-width="1" fill="none" stroke-linecap="square"/>
<path d="M586.7 170.3 L585.8 169.9 L581.3 170.7M580.9 178.1 L580.4 180.7 L579.1 184.1 L576.3 187.9 L574.1 189.9M580.9 178.1 L575.8 178.1 L575.1 177.6M587.8 177.5 L582.5 177.6 L581.4 178.1M589.3 189 L588.3 189.1 L584.9 185.3 L583.1 182.2 L581.4 178.1M581 178.1 L581.3 170.7M576.1 170.4 L576.7 170.9 L581.3 170.7M598.3 179.4 L596.9 183.3 L595.5 185.2 L593.7 186.7M598.3 179.4 L598.1 179.1 L594.5 179.4 L593.7 178.9M601.9 174.3 L598.7 174.6M592.5 170.1 L602.8 169.1 L603.8 169.5M592.5 170.1 L592.4 186.8 L592.8 188.1 L594.9 188.6 L604.1 188 L604.8 188.4M592.5 170.1 L590.7 169.5M598.6 179.4 L601.6 184.2 L603.3 185.6 L604.1 185.4M598.6 179.4 L598.9 179 L603.8 178.8M598.4 179.4 L598.7 174.6M596.5 171.2 L596.7 172.3 L596.3 174.7M596.3 174.7 L594.5 178.1M596.3 174.7 L598.7 174.6" stroke="#00ff00" stroke-width="1" fill="none" stroke-linecap="square"/>
<path d="M589 211.9 L585.9 214.3M585.9 206.3 L583.9 206.5 L583.1 205.8M585.9 206.3 L585.9 214.3M585.9 206.2 L588.6 206.4M585.9 206.2 L585.9 200 L585.2 198.8M598.1 220.1 L596.3 218.2 L594.3 214.9 L593.2 212 L592.6 211.5M592.6 211.5 L592.8 207.8 L592.4 206.7M592.6 211.5 L590.6 216.9 L589.1 219.1 L587.1 221M585.9 214.3 L583.9 216.2 L582.8 215.8M590.9 203.8 L588.7 210M590.9 203.8 L596.7 203.4 L596.6 204.7 L595.1 208.5M590.9 203.8 L591.8 199 L591.5 197.6" stroke="#00ff00" stroke-width="1" fill="none" stroke-linecap="square"/>
<path d="M583.3 236.4 L583.3 234.9 L585.5 233.1 L587.9 234.3 L588.7 236.4 L588.7 238.4 L587.5 241 L583.3 251.6 L583.3 252.6 L589.2 252.6M597.2 233.1 L591.4 233.1 L591.4 241.6 L594.5 241.6 L596.6 245.2 L596.6 248.7 L594.6 252.6 L591 252.6" stroke="#00ff00" stroke-width="1" fill="none" stroke-linecap="square"/>
<path d="M584.9 285.2 L584.8 283M588.5 268.7 L584.3 269 L584.8 283M588.5 268.7 L591.4 268.4M588.5 268.7 L588 274.8 L586.9 277.8 L585.6 279.6M595 276.3 L592.2 276.4 L591.5 275.9 L591.4 268.4M591.4 268.4 L595.3 268 L596.2 268.3 L595.8 282.4 L584.8 283" stroke="#00ff00" stroke-width="1" fill="none" stroke-linecap="square"/>
<path d="M574.1 362 L576.1 359 L578.3 354.5 L578.6 353.5 L578.3 352.2M588 348.1 L586.9 347.8 L580.9 348.3M580.9 348.3 L574.8 348.8 L573.9 348M580.9 348.3 L580.9 342.4 L580.2 340.9M583 353.1 L587.2 360.5M600.8 351.7 L599 347.7M600.8 351.7 L601.8 349.2 L602.2 346M600.8 351.7 L600.8 352.5M592.4 359.3 L590.7 362.8M592.7 344.2 L593.4 341.2 L593.1 340.1M592.7 344.2 L590.4 348.3M592.7 344.2 L596 344.2 L594.5 348.9M596.3 362.4 L595 359.5M598.5 352.7 L596.5 352.4M599 347.7 L597.9 350.3M599 347.7 L599.4 345.9M599.4 345.9 L600.1 341.7 L599.8 340.7M599.4 345.9 L602.2 346M601.9 359.2 L604.4 362.8M602.2 346 L603.7 345.5 L604.4 345.9M596.5 352.4 L596.6 348.9 L594.5 348.9M591.1 356.3 L592 357 L596.2 356.6 L596.4 352.7M598.3 359.5 L600.2 362.2M594.5 348.9 L591.7 349.1 L591.1 348.6M597 358 L599 355.7 L600.8 352.5M604.6 357.1 L603.5 356.4 L600.8 352.5M590.1 352.3 L590.7 352.9 L596.4 352.7" stroke="#00ff00" stroke-width="1" fill="none" stroke-linecap="square"/>
<path d="M582.1 389.7 L582.1 379.2M582.1 389.7 L580.8 390.4 L579.6 389.8M582.1 389.7 L586.5 387.2M593.7 389.6 L592.8 389.9 L590.3 388.4 L587.7 386.1 L587 384.7M587 384.7 L585.2 382.2 L584.2 379.2M587 384.7 L590.5 381.2 L591 380.4 L590.9 379.3M584.2 379.2 L582.1 379.2M584.2 379.2 L589.1 378.7 L589.4 374.3M582.1 379.2 L582.1 374.8M589.4 374.3 L582.1 374.8M589.4 374.3 L589.6 370.7 L589.4 370.3 L588.6 370.3 L582.1 370.8 L582.1 374.8" stroke="#00ff00" stroke-width="1" fill="none" stroke-linecap="square"/>
<path d="M585.3 415.7 L580.5 415.4 L579.9 414.3 L579.9 406.1 L582.1 403.8 L584.2 405.5 L585.3 408 L585.3 417.5 L583.8 420.1 L580.9 423.8M587.6 407 L587.6 403.8 L593.7 403.8 L593.7 408 L591.8 419.1 L591.3 423.8" stroke="#00ff00" stroke-width="1" fill="none" stroke-linecap="square"/>
<path d="M591.3 441.4 L582.4 441.8 L581.6 441.1M579.5 453.4 L580.4 454.1 L593 453.2 L594.1 453.6" stroke="#00ff00" stroke-width="1" fill="none" stroke-linecap="square"/>
<path d="M124.3 497.2 L125 497.9 L129.5 497.6M126.7 486 L126.7 482.7 L130.3 482.6 L130.1 485.6 L126.7 486M126.7 486 L126.7 489.2 L127.5 489.8 L131 489.3 L131.6 486.1M126 493.5 L126.5 494 L129.5 493.8M128.9 491 L129.4 491.8 L129.5 493.8M139.5 497.6 L138.8 497.1 L133.4 497.4M129.8 500.4 L124.8 503.9M137.6 503.1 L133.7 499.9M129.5 493.8 L133.5 493.6M129.5 493.8 L129.5 497.6M133 485.6 L136.4 485.3 L136.5 482.1 L133.1 482.1 L133 485.6M133 485.6 L133.1 488.9 L134.2 489.4 L137.4 488.9 L138 485.8M133.5 493.6 L133.4 497.4M129.5 497.6 L133.4 497.4M133.5 493.5 L137.8 493.7M133.5 493.5 L133.6 491.8 L133.1 490.7M147 482.5 L141.2 482.5 L141.2 491 L144.3 491 L146.4 494.6 L146.4 498.1 L144.4 502 L140.8 502M150.2 485.8 L150.2 484.3 L152.4 482.5 L154.8 483.7 L155.6 485.8 L155.6 487.8 L154.4 490.4 L150.2 501 L150.2 502 L156.1 502M164.2 491.8 L172.1 489.9 L172.8 490.1M164.2 491.8 L164.2 482.8 L163.6 481.7M164.2 492.2 L159.1 493.3 L158 492.8M164.2 492.2 L164.2 499.2 L164.8 501.3 L167 501.9 L171.7 501.3 L172.6 501.5M190.5 497.6 L188 497.3M190.5 497.6 L188.9 501.4 L187.1 503.8M202.7 502.2 L201.4 502.7 L197.3 501.5 L193 499.3 L190.9 497.6M197.7 484.4 L193.7 486M197.7 484.4 L197.7 490.2M197.7 484.4 L199.9 482.5 L200 481.3M200.8 490.3 L197.7 490.2M195.1 497.2 L193.6 497.3 L193 496.8M195.1 497.2 L197.7 497.1M195.1 497.2 L195.1 489.9 L194.6 488.7M197.7 497.1 L201.9 497.2M197.7 497.1 L197.7 490.2M188.1 484.6 L188.9 485.1 L191.9 484.9 L189.4 491.6 L192.1 491.9 L190.9 497.6M217.4 489.5 L216.6 489.1 L212.9 489.4M212.9 489.5 L209.2 489.8 L209.3 495.7M212.9 489.5 L212.9 495.5M212.9 489.4 L212.9 484.4M209.2 484.5 L206.2 489.8M209.2 484.5 L212.9 484.4M209.2 484.5 L209.7 481.7 L209.4 480.4M219.8 495.4 L218.1 495.1 L212.9 495.5M209.3 495.7 L206 496.1 L205 495.5M209.3 495.7 L212.9 495.6M217.8 484.1 L212.9 484.4M212.9 495.6 L213 503.5" stroke="#00ff00" stroke-width="1" fill="none" stroke-linecap="square"/>
<path d="M326.8 494.7 L326.4 500.1 L325.7 501.6 L322.6 502.1 L316.9 502.1 L315.6 501.6 L315 500.4 L314.8 498.9 L315.7 495.9 L318.2 491.5 L322.5 485.7 L322.6 484.8 L315.3 485.3 L314.4 484.6M343.4 500.3 L337.9 500.9M343.4 500.3 L343.6 503.4M343.4 500.3 L343.4 489.5 L342.8 488.2M332.1 489 L332.6 489.8 L332.7 491 L332.7 501.3 L337.9 500.9M337.3 481.9 L337.9 483.2 L337.9 500.9M351.8 483 L348.6 494.3 L348.6 497.9 L354.8 497.9M353.7 493.3 L353.7 502.5M357.1 483 L360.2 483 L362.8 485.7 L362.8 488.7 L360.8 491.5 L358.1 491.5M360.8 491.5 L362.8 494.1 L362.8 499.2 L360.4 502.5 L357.1 502.5M366.7 502.7 L368.7 499.7 L370.9 495.2 L371.2 494.2 L370.9 492.9M380.6 488.8 L379.5 488.5 L373.5 489M373.5 489 L367.4 489.5 L366.5 488.7M373.5 489 L373.5 483.1 L372.8 481.6M375.6 493.8 L379.8 501.2M405.2 487.2 L403.9 483.8M395.3 488.9 L395.6 503.6M395.3 488.9 L396.9 482.4 L396.5 480.9M395.3 488.9 L394.7 489.3 L392.3 494.2M408 502.7 L407.2 502.5 L404.8 498.8 L401.9 490.5M397 490 L397.7 490.5 L401.3 490.2 L401.5 490.6M401.5 490.6 L400.8 494.9 L399.7 498.4 L398.6 500.9 L396.5 503.8M401.9 490.5 L405 489.8 L407.3 490M401.6 490.5 L401.8 482.3 L401.2 480.9M418.7 481.3 L419.4 482.4 L419.5 487.7M413.1 503.6 L412.9 489.1M422 490.6 L420 501.6M420 501.6 L414.9 501.8 L414.1 501.2M420 501.6 L425.3 501.7M412.9 489.1 L412.1 489.8 L409.7 494.2M412.9 489.1 L413.1 487.5 L414.6 482.7 L414.3 481.1M418.3 498.7 L417 490.5M424.3 487.7 L423.6 487.3 L419.5 487.7M414.7 487.2 L415.6 488 L419.5 487.7" stroke="#00ff00" stroke-width="1" fill="none" stroke-linecap="square"/>
<path d="M215 146.2 L215.6 147.1 L215.6 149.1M212.6 158.2 L215.1 156.2 L215.4 155.6M212.6 158.2 L213.2 159.2M212.6 158.2 L209.8 159.6M215.4 155.6 L213.6 153.2M215.4 155.6 L215.9 155.6M214.7 150.2 L214.8 151.1 L214.4 152.2M215.9 155.6 L217.8 153 L217.9 152.2 L214.4 152.2M215.9 155.6 L218.6 157.7 L220.9 158.7 L221.6 158.5M215.6 149.1 L220.2 148.9 L220.1 149.8 L219 152M215.6 149.1 L211.7 149.6M213.6 153.2 L213.7 152.7 L214.4 152.2M213.6 153.2 L210.8 155.6M210.9 152.1 L211.7 149.6M211.7 149.6 L211.8 148.3M213.2 159.2 L218.2 159 L218.1 162.5 L213.3 162.8 L213.2 159.2" stroke="#00ff00" stroke-width="1" fill="none" stroke-linecap="square"/>
<path d="M223 163.4 L223.9 160.9 L224.9 156.1 L225.3 148.6 L232.9 147.8 L233.8 148.1M233.9 152.7 L233.4 152.4 L230.3 152.8M226.5 152.4 L227.2 152.9 L230.3 152.8M227.7 161.2 L229.4 162.8 L230.3 163 L230.3 152.8" stroke="#00ff00" stroke-width="1" fill="none" stroke-linecap="square"/>
<path d="M453.4 137 L454 137.5 L457.7 137.4M461.5 134.3 L460.6 134.1 L452.6 134.8 L452.3 144.2 L451.6 147.4 L450.6 150M460.6 140.2 L458.2 140.3 L457.6 139.8M460.6 140.2 L460.6 149.3 L459.9 149.4 L458.4 147.9M458.1 146.7 L455.8 147.8M455.8 147.8 L453.5 148.8 L452.8 148.3M455.8 147.8 L456.7 145 L456.5 144M454.9 146.7 L454.4 145.2M459.3 144.6 L458.2 142.4M460 135.7 L460.6 136.6 L460.6 140M462.5 140.2 L460.6 140M454.2 143.2 L456.7 142.9 L456.8 139.9 L454 140.1 L454.2 143.2" stroke="#00ff00" stroke-width="1" fill="none" stroke-linecap="square"/>
<path d="M466 142.2 L466.6 142.7 L468.8 142.7M473.9 142.3 L469.6 142.4M465.4 137.2 L472.3 136.7 L472.4 137.3 L472.1 139.2 L465.4 139.7M465.4 137.2 L465.4 135.2 L469.8 134.4 L471.9 133.5M465.4 137.2 L465.4 139.7M465.4 139.7 L465.1 143.6 L464.7 146 L463.1 150M468.8 142.7 L469.6 142.4M468.8 142.7 L468.5 145M468.5 145 L471.9 145 L471.9 145.2 L471.7 147.8 L471.1 149.8 L470.4 149.7 L468.7 148.1M468.5 145 L467 148 L465.1 149.8M469.6 142.4 L469.6 141.1 L469.2 140.4" stroke="#00ff00" stroke-width="1" fill="none" stroke-linecap="square"/>
<path d="M295.8 267.8 L293.9 269.7 L293 270.2M293 262.6 L290.6 262.8 L290 262.4M293 262.6 L293 270.2M292.5 254.7 L293.1 255.7 L293.1 262.5M293.1 262.5 L295.1 262.5M300.7 270.2 L299.9 270.3 L297.4 267.7 L295.7 264.6 L295.1 262.5M291.3 270.9 L292 271.2 L293 270.2M300.2 262.2 L295.1 262.5M294.1 260.4 L295.7 259.3 L297.4 257.5 L298.1 256.4 L298 255.5" stroke="#00ff00" stroke-width="1" fill="none" stroke-linecap="square"/>
<path d="M307.9 263 L307.6 260.5 L310.1 257.1 L310.3 256.2 L305 256.6 L304.4 256.1M307.9 263 L302.8 263.4 L302.2 262.9M308 263 L308.1 266.2 L308 271.1 L307.2 271.2 L305.1 269M308 263 L312.7 262.5 L313.4 262.8" stroke="#00ff00" stroke-width="1" fill="none" stroke-linecap="square"/>
<path d="M316.8 263.7 L317.4 264.2 L319.5 264.2M324.3 263.9 L320.3 263.9M316.4 258.7 L322.8 258.2 L322.9 258.9 L322.6 260.7 L316.3 261.2M316.4 258.7 L316.3 256.7 L320.5 255.9 L322.4 255M316.4 258.7 L316.3 261.2M316.3 261.2 L316 265.1 L315.6 267.5 L314.1 271.5M319.5 264.2 L320.3 263.9M319.5 264.2 L319.2 266.5M319.2 266.5 L322.4 266.5 L322.4 266.7 L322.2 269.3 L321.6 271.3 L321 271.2 L319.4 269.6M319.2 266.5 L317.8 269.5 L316 271.3M320.3 263.9 L320.3 262.6 L319.9 261.9" stroke="#00ff00" stroke-width="1" fill="none" stroke-linecap="square"/>
<path d="M436.4 264.9 L435 265.4 L434.4 264.9M436.4 264.9 L439.1 264M436.4 264.9 L436.4 261.5M440.1 263.7 L440.8 264.4 L442.6 265.2 L443.7 265M440.1 263.7 L441.6 261.7 L441.6 261M440.1 263.7 L438.5 262.5 L438.1 261.5M436.2 254 L435.2 252.8M436.2 254 L436.8 253.7 L438 251.6 L437.9 251.3 L436.7 251.3M436.2 254 L435.6 255.1 L433.5 256.6M436.4 259.7 L436.4 261.5M436.4 259.7 L436.4 258M436.4 259.7 L440.6 259.5M443.1 254.6 L441.3 252.4M436.7 249.6 L438.7 249.7M436.7 249.6 L436.7 251.3M436.7 249.6 L436.7 248.8 L436.4 248M438.1 261.5 L440.4 261.4 L440.6 259.5M438.1 261.5 L436.4 261.5M437.5 256 L438 256.4 L439.6 256.5M436 257.2 L433 259.5M436 257.2 L436.4 258M436 257.2 L438.7 254 L442 257.2 L444 258.4 L444.3 258.2M440.6 259.5 L440.6 257.8 L436.4 258M439.6 254.3 L441.2 252.4M441.2 252.4 L440 251.1M436.7 251.3 L435.4 251.4M435.5 249.8 L435.6 250.5 L435.4 251.4M441.3 252.4 L442.3 250 L442.3 249.3 L439.7 249.5 L439.3 249.2M435.4 251.4 L433.8 253.4" stroke="#00ff00" stroke-width="1" fill="none" stroke-linecap="square"/>
<path d="M445.8 265.5 L446.7 263 L447.7 258.2 L448 250.7 L455.2 249.9 L456 250.2M456.1 254.8 L455.6 254.5 L452.7 254.9M449.1 254.5 L449.8 255 L452.7 254.9M450.3 263.3 L451.9 264.9 L452.7 265.1 L452.7 254.9" stroke="#00ff00" stroke-width="1" fill="none" stroke-linecap="square"/>
<path d="M146.6 419 L146 418.7 L142.5 419.1M146 424.4 L145.6 424.1 L142.5 424.4M142.5 430.2 L142.5 424.5M142.5 430.2 L137.9 430.5 L137.3 430M142.5 430.2 L147.3 430 L147.8 430.3M142.5 424.5 L139.6 424.6 L139.1 424.1M142.5 424.4 L142.5 419.1M142.5 419.1 L139 419.4 L138.3 418.8M140.9 414.7 L142.8 416 L143.7 417.1" stroke="#00ff00" stroke-width="1" fill="none" stroke-linecap="square"/>
<path d="M150.7 431.6 L152.2 430 L153.8 427.5 L154.8 425.3 L155.9 421.5M155.9 415 L156.4 416.1 L155.9 421.5M161.8 430.8 L161.1 430.6 L159.5 428.5 L157.6 425 L156.4 421.8 L155.9 421.5" stroke="#00ff00" stroke-width="1" fill="none" stroke-linecap="square"/>
<path d="M165.5 423.8 L166.1 424.3 L168.2 424.3M173 424 L169 424M165.1 418.8 L171.5 418.3 L171.6 419 L171.3 420.8 L165 421.3M165.1 418.8 L165 416.8 L169.2 416 L171.2 415.1M165.1 418.8 L165 421.3M165 421.3 L164.7 425.2 L164.3 427.6 L162.8 431.6M168.2 424.3 L169 424M168.2 424.3 L167.9 426.6M167.9 426.6 L171.1 426.6 L171.2 426.8 L170.9 429.4 L170.3 431.4 L169.7 431.3 L168.1 429.7M167.9 426.6 L166.5 429.6 L164.7 431.4M169 424 L169 422.7 L168.6 422" stroke="#00ff00" stroke-width="1" fill="none" stroke-linecap="square"/>
<path d="M304.6 408.4 L304.9 409.1 L304.9 411.3 L304.5 415.6 L303.8 417.4 L302.1 419.2M306.5 414.7 L306.4 406.5 L303.5 406.6 L303.2 406.7 L303.4 415M308.3 414.7 L308.2 407.9 L307.8 407.2M306.8 418.5 L305.6 416M309.5 404.9 L310 406 L310 418.8 L309.8 419.2 L309.4 419 L307.8 417M310.6 403.4 L301.6 403.9 L301.3 413.1 L300.7 416.6 L299.9 419.2" stroke="#00ff00" stroke-width="1" fill="none" stroke-linecap="square"/>
<path d="M313.6 411.7 L313.6 407.8M313.6 411.7 L313.2 415.5 L312 419M313.6 411.7 L316.5 411.4 L316.6 409 L316.5 407.6 L313.6 407.8M321.1 419.6 L320.9 409M318.4 409.2 L320.9 409M318.4 409.2 L318.4 411.4 L317.8 414.7 L317.1 417.2 L316.2 419M318.4 409.2 L318.5 405.7 L319.2 405.4 L321.2 403.7 L321.8 403 L321.8 402.3M323.2 409 L320.9 409M313.6 407.8 L313.6 405.3 L316 404.3 L316.8 403.7 L316.8 403.2" stroke="#00ff00" stroke-width="1" fill="none" stroke-linecap="square"/>
<path d="M377.7 404.3 L378 405 L378 407.2 L377.6 411.5 L376.9 413.3 L375.2 415.1M379.6 410.6 L379.5 402.4 L376.6 402.5 L376.3 402.6 L376.5 410.9M381.4 410.6 L381.3 403.8 L380.9 403.1M379.9 414.4 L378.7 411.9M382.6 400.8 L383.1 401.9 L383.1 414.7 L382.9 415.1 L382.5 414.9 L380.9 412.9M383.8 399.3 L374.7 399.8 L374.4 409 L373.8 412.5 L373 415.1" stroke="#00ff00" stroke-width="1" fill="none" stroke-linecap="square"/>
<path d="M386.6 407.6 L386.6 403.7M386.6 407.6 L386.2 411.4 L385 414.9M386.6 407.6 L389.5 407.3 L389.6 404.9 L389.5 403.5 L386.6 403.7M394.1 415.5 L393.9 404.9M391.4 405.1 L393.9 404.9M391.4 405.1 L391.4 407.3 L390.8 410.6 L390.1 413.1 L389.2 414.9M391.4 405.1 L391.5 401.6 L392.2 401.3 L394.2 399.6 L394.8 398.9 L394.8 398.2M396.2 404.9 L393.9 404.9M386.6 403.7 L386.6 401.2 L389 400.2 L389.8 399.6 L389.8 399.1" stroke="#00ff00" stroke-width="1" fill="none" stroke-linecap="square"/>
<path d="M440.6 408.4 L441.2 409.3 L441.2 411.3M438.2 420.5 L440.7 418.5 L441 417.8M438.2 420.5 L438.8 421.5M438.2 420.5 L435.5 421.8M441 417.8 L439.2 415.5M441 417.8 L441.5 417.8M440.3 412.4 L440.4 413.3 L440 414.4M441.5 417.8 L443.3 415.2 L443.4 414.4 L440 414.4M441.5 417.8 L444.2 419.9 L446.4 420.9 L447.1 420.7M441.2 411.3 L445.7 411.1 L445.6 412 L444.5 414.2M441.2 411.3 L437.4 411.8M439.2 415.5 L439.4 414.9 L440 414.4M439.2 415.5 L436.5 417.8M436.6 414.3 L437.4 411.8M437.4 411.8 L437.5 410.5M438.8 421.5 L443.8 421.2 L443.6 424.7 L439 425 L438.8 421.5" stroke="#00ff00" stroke-width="1" fill="none" stroke-linecap="square"/>
<path d="M450.9 417.8 L451.5 418.3 L453.7 418.3M458.8 418 L454.5 418M450.4 412.8 L457.1 412.3 L457.2 413 L457 414.8 L450.4 415.3M450.4 412.8 L450.4 410.8 L454.7 410 L456.8 409.1M450.4 412.8 L450.4 415.3M450.4 415.3 L450.1 419.2 L449.6 421.6 L448 425.6M453.7 418.3 L454.5 418M453.7 418.3 L453.4 420.6M453.4 420.6 L456.7 420.6 L456.8 420.8 L456.5 423.4 L455.9 425.4 L455.2 425.3 L453.6 423.7M453.4 420.6 L451.9 423.6 L450 425.4M454.5 418 L454.5 416.7 L454.1 416" stroke="#00ff00" stroke-width="1" fill="none" stroke-linecap="square"/>
<path d="M201.5 360.3 L200.4 360.9 L199.8 361.8 L199.7 363.1 L200.1 364.3 L200.8 364.7 L201.8 364.3 L202.5 363.1 L202.7 361.8 L202.5 360.9 L201.5 360.3M200.8 364.7 L199.8 365.2 L199.2 366.1 L198.9 368.1 L199.4 369.3 L200.1 369.8 L200.9 369.3 L201.8 368.1 L202.1 366.1 L201.7 365.2 L200.8 364.7M206 360.3 L204.9 360.9 L204.3 361.8 L204.2 363.1 L204.6 364.3 L205.3 364.7 L206.3 364.3 L207 363.1 L207.2 361.8 L207 360.9 L206 360.3M205.3 364.7 L204.3 365.2 L203.7 366.1 L203.4 368.1 L203.9 369.3 L204.6 369.8 L205.4 369.3 L206.3 368.1 L206.6 366.1 L206.2 365.2 L205.3 364.7" stroke="#00ff00" stroke-width="1" fill="none" stroke-linecap="square"/>
<path d="M218.2 366.8 L218.4 365.3 L221.5 365.3 L221.2 367.3 L219.4 372.6 L218.8 374.8M224.9 370.9 L222.6 370.8 L222.3 370.3 L222.9 366.4 L224.2 365.3 L225.1 366.1 L225.5 367.3 L224.8 371.8 L223.9 373.1 L222.1 374.8" stroke="#00ff00" stroke-width="1" fill="none" stroke-linecap="square"/>
<path d="M231.3 383.8 L231.4 383.1 L232.7 382.2 L233.8 382.8 L234.1 383.8 L234 384.8 L233.2 386.1 L230.2 391.2 L230.2 391.7 L233.1 391.7M239.1 382.2 L236.1 382.2 L235.5 386.3 L237.1 386.3 L237.9 388.1 L237.7 389.8 L236.3 391.7 L234.5 391.7" stroke="#00ff00" stroke-width="1" fill="none" stroke-linecap="square"/>
<path d="M226.4 406 L224.1 405.9 L223.8 405.4 L224.4 401.5 L225.7 400.4 L226.6 401.2 L227 402.4 L226.3 406.9 L225.4 408.1 L223.6 409.9M228.7 401.9 L228.9 400.4 L232 400.4 L231.7 402.4 L229.9 407.6 L229.3 409.9" stroke="#00ff00" stroke-width="1" fill="none" stroke-linecap="square"/>
<path d="M208.9 419 L206.4 424.5 L206.1 426.2 L209.3 426.2M209.1 424 L208.4 428.5M211.4 419 L213 419 L214.2 420.3 L213.9 421.8 L212.7 423.1 L211.3 423.1M212.7 423.1 L213.5 424.4 L213.2 426.9 L211.7 428.5 L210 428.5" stroke="#00ff00" stroke-width="1" fill="none" stroke-linecap="square"/>
<path d="M188.1 418.3 L185.1 418.3 L184.5 422.4 L186.1 422.4 L186.9 424.2 L186.7 425.9 L185.3 427.8 L183.5 427.8M189.3 419.9 L189.4 419.2 L190.7 418.3 L191.8 418.9 L192.1 419.9 L192 420.9 L191.2 422.2 L188.2 427.3 L188.2 427.8 L191.1 427.8" stroke="#00ff00" stroke-width="1" fill="none" stroke-linecap="square"/>
<path d="M174.8 395.6 L176.8 393.5 L175.4 403M180.7 393.5 L178.1 397.2 L177.4 401.5 L178 403 L179.1 403 L180.3 401.1 L180.6 398.9 L179.9 397.5 L178 397.5" stroke="#00ff00" stroke-width="1" fill="none" stroke-linecap="square"/>
<path d="M175.4 368.3 L177 368.3 L178.2 369.6 L177.9 371.1 L176.7 372.4 L175.3 372.4M176.7 372.4 L177.5 373.7 L177.2 376.2 L175.7 377.8 L174 377.8M181.9 368.3 L179.4 373.8 L179.1 375.6 L182.3 375.6M182.1 373.3 L181.4 377.8" stroke="#00ff00" stroke-width="1" fill="none" stroke-linecap="square"/>
</g>
</svg>
</body></html>
